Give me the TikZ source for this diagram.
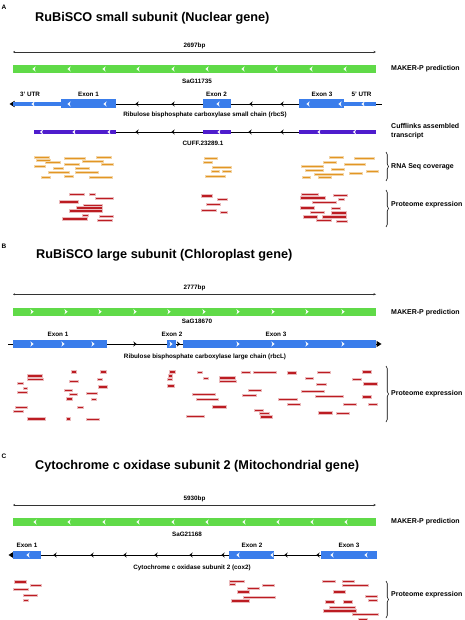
\documentclass[tikz,border=0pt]{standalone}
\usepackage{fontspec}
\setmainfont{Liberation Sans}
\usetikzlibrary{arrows.meta,decorations.pathreplacing}
\definecolor{gbar}{RGB}{96,218,72}
\definecolor{bl}{RGB}{58,125,235}
\definecolor{purp}{RGB}{78,28,205}
\definecolor{orng}{RGB}{226,150,36}
\definecolor{dred}{RGB}{188,28,34}
\tikzset{
 title/.style={font=\bfseries\fontsize{12.7}{14}\selectfont, anchor=west, inner sep=0},
 plabel/.style={font=\bfseries\fontsize{6.5}{7}\selectfont, inner sep=0},
 small/.style={font=\bfseries\fontsize{6.3}{7}\selectfont, inner sep=0},
 rlabel/.style={font=\bfseries\fontsize{7}{9}\selectfont, inner sep=0, anchor=west, align=left},
 scaleline/.style={draw=black!80, line width=0.6pt, {Stealth[length=2pt,width=2pt]}-{Stealth[length=2.5pt,width=2.2pt]}},
 geneline/.style={draw=black, line width=0.7pt},
 obar/.style={fill=orng, draw=orng!40, line width=0.5pt},
 rbar/.style={fill=dred, draw=dred!30, line width=0.5pt},
 brc/.style={decorate, decoration={brace, amplitude=2.5pt}, line width=0.6pt},
}
\newcommand\chL[3]{\fill[#3] (#1+1.6,#2-2.6) -- (#1-1.6,#2) -- (#1+1.6,#2+2.6) -- (#1+0.6,#2) -- cycle;}
\newcommand\chR[3]{\fill[#3] (#1-1.6,#2-2.6) -- (#1+1.6,#2) -- (#1-1.6,#2+2.6) -- (#1-0.6,#2) -- cycle;}
\newcommand\ob[3]{\draw[obar] (#1,#3-1) rectangle (#2,#3+1);}
\newcommand\rb[3]{\draw[rbar] (#1,#3-1.1) rectangle (#2,#3+1.1);}
\begin{document}
\begin{tikzpicture}[x=1pt,y=-1pt]
\useasboundingbox (0,0) rectangle (464,620);
\fill[white] (0,0) rectangle (464,620);

% ================= Panel A =================
\node[plabel] (lA) at (4,7) {A};
\node[title] (tA) at (35,18) {RuBiSCO small subunit (Nuclear gene)};
\draw[scaleline] (13,52) -- (376,52);
\node[small] (bpA) at (194.5,46) {2697bp};
\fill[gbar] (13,65) rectangle (376,73);
\foreach \x in {34,69,104,138,173,207,243,276,311,345} {\chL{\x}{69}{white}}
\node[rlabel] (mkA) at (391,69) {MAKER-P prediction};
\node[small] (sgA) at (197,81) {SaG11735};
% gene model
\draw[geneline] (12,104) -- (382,104);
\fill (9.5,104) -- (14.5,100.8) -- (14.5,107.2) -- cycle;
\fill[bl] (13,101.8) rectangle (61,106.2);
\chL{33}{104}{white}
\fill[bl] (60.7,99) rectangle (115.7,108.5);
\chL{69}{104}{white}\chL{105}{104}{white}
\chL{137}{104}{black}\chL{173}{104}{black}
\fill[bl] (202.7,99) rectangle (231,108.5);
\chL{218}{104}{white}
\chL{251}{104}{black}\chL{282}{104}{black}
\fill[bl] (299,99) rectangle (344,108.5);
\chL{308}{104}{white}\chL{340}{104}{white}
\fill[bl] (344,101.8) rectangle (376,106.2);
\chL{363}{104}{white}
\node[small] (utr3) at (30,94) {3' UTR};
\node[small] (eA1) at (88.5,94) {Exon 1};
\node[small] (eA2) at (216.5,94) {Exon 2};
\node[small] (eA3) at (322,94) {Exon 3};
\node[small] (utr5) at (361.5,94) {5' UTR};
\node[small] (gnA) at (205,115) {Ribulose bisphosphate carboxylase small chain (rbcS)};
% cufflinks
\draw[geneline] (34,132) -- (376,132);
\fill[purp] (34,130.2) rectangle (116,133.8);
\fill[purp] (203,130.2) rectangle (231,133.8);
\fill[purp] (299,130.2) rectangle (376,133.8);
\foreach \x in {41.5,74,109,219,319,354.5} {\chL{\x}{132}{white}}
\foreach \x in {137,173,250,282} {\chL{\x}{132}{black}}
\node[small] (cuff) at (203,143) {CUFF.23289.1};
\node[rlabel] (cfl) at (391,131.5) {Cufflinks assembled\\transcript};
% RNA seq
\foreach \a/\b/\c in {34/49/157, 36/50/160, 45/60/162.7, 34/45/166.7, 53/63/168.7, 48/69/172, 41/50/177, 64/85/158, 82/103/161, 64/79/164, 96/111/157.7, 101/113/164, 75/89/168.7, 75/98/172, 64/73/176.3, 89/112/177.7, 204/217/158.7, 203/212/162, 212/231/167, 211/219/171, 222/231/171.7, 205/225/176.7, 329/343/157, 354/374/158.3, 323/336/162.3, 344/365/164, 301/323/166.7, 331/344/169, 305/323/170.7, 314/343/174.3, 349/362/173.3, 366/378/171, 302/310/177.7, 318/331/177.7} {\ob{\a}{\b}{\c}}
\coordinate (rsT) at (386,152); \coordinate (rsB) at (386,181);
\draw[brc] (rsT) -- (rsB);
\node[rlabel] (rsl) at (391,166.7) {RNA Seq coverage};
% proteome A
\foreach \a/\b/\c in {69/84/194.3, 89/95/194.3, 95/113/198.3, 59/78/201.7, 83/102/205, 76/102/207.7, 69/102/210.7, 82/88/215.3, 99/113/216, 62/87/218.7, 97/112/220, 201/212/195.7, 217/227/199.3, 206/220/204, 201/216/210, 220/227/212, 301/318/194.3, 333/347/195, 300/325/197.7, 338/344/199, 312/336/202, 300/314/207.7, 331/340/208.3, 310/324/212, 331/346/212.7, 303/317/216.7, 322/346/216.7, 316/331/220.3, 336/347/221} {\rb{\a}{\b}{\c}}
\coordinate (paT) at (386,190); \coordinate (paB) at (386,227);
\draw[brc] (paT) -- (paB);
\node[rlabel] (pal) at (391,205) {Proteome expression};

% ================= Panel B =================
\node[plabel] (lB) at (4,246.5) {B};
\node[title] (tB) at (36,255) {RuBiSCO large subunit (Chloroplast gene)};
\draw[scaleline] (13,294.3) -- (376,294.3);
\node[small] (bpB) at (194.5,288.3) {2777bp};
\fill[gbar] (13,307.7) rectangle (376,315.7);
\foreach \x in {32,66,100,135,169,204,238,273,307,343} {\chR{\x}{311.7}{white}}
\node[rlabel] (mkB) at (391,312.3) {MAKER-P prediction};
\node[small] (sgB) at (197,321) {SaG18670};
\draw[geneline] (8,344) -- (378,344);
\fill (381.5,344) -- (376.5,340.8) -- (376.5,347.2) -- cycle;
\fill[bl] (13,340) rectangle (107,348.3);
\foreach \x in {32,63,93} {\chR{\x}{344}{white}}
\chR{135}{344}{black}
\fill[bl] (167,340) rectangle (175.5,348.3);
\chR{171}{344}{white}
\chR{178.5}{344}{black}
\fill[bl] (183,340) rectangle (376,348.3);
\foreach \x in {238,273,307,343} {\chR{\x}{344}{white}}
\node[small] (eB1) at (58,334) {Exon 1};
\node[small] (eB2) at (172,334) {Exon 2};
\node[small] (eB3) at (276,334.5) {Exon 3};
\node[small] (gnB) at (205,357.3) {Ribulose bisphosphate carboxylase large chain (rbcL)};
\foreach \a/\b/\c in {27/42/375.7, 27/43/379, 17/23/383, 23/27/388, 17/27/392.3, 15/27/407, 13/23/411, 27/45/418.7, 71/76/371.7, 100/106/371.7, 69/78/381.3, 97/102/379, 98/107/386.7, 64/72/390.3, 69/77/394, 86/97/393, 66/72/398.7, 91/96/399.3, 77/83/407, 66/70/418.7, 86/99/419.3, 169/175/371.7, 168/172/375.7, 167/172/379.3, 167/174/385.7, 197/202/372.3, 203/208/378, 219/235/377.7, 219/236/381, 192/215/394.3, 196/218/399, 212/226/406.7, 186/204/416, 241/250/372.3, 253/276/372.3, 287/296/372.7, 317/330/372.3, 362/371/371.7, 305/313/378, 352/361/379, 316/326/384.3, 363/377/383.7, 248/261/390.3, 301/324/391.3, 242/256/395, 315/343/396, 362/371/396.7, 278/297/399.3, 287/300/404, 343/356/404, 368/377/404.3, 254/263/410.3, 259/269/413.3, 260/272/416.7, 318/332/412.7, 336/349/413} {\rb{\a}{\b}{\c}}
\coordinate (pbT) at (386,366); \coordinate (pbB) at (386,422);
\draw[brc] (pbT) -- (pbB);
\node[rlabel] (pbl) at (391,394) {Proteome expression};

% ================= Panel C =================
\node[plabel] (lC) at (4,456.5) {C};
\node[title] (tC) at (35,466) {Cytochrome c oxidase subunit 2 (Mitochondrial gene)};
\draw[scaleline] (13,505) -- (376,505);
\node[small] (bpC) at (194.5,499.3) {5930bp};
\fill[gbar] (13,518) rectangle (376,526);
\foreach \x in {35,69,104,138,173,207,244,278,312,346} {\chL{\x}{522}{white}}
\node[rlabel] (mkC) at (391,522) {MAKER-P prediction};
\node[small] (sgC) at (187,534) {SaG21168};
\draw[geneline] (11,555) -- (377,555);
\fill (8.5,555) -- (13.5,551.8) -- (13.5,558.2) -- cycle;
\fill[bl] (13,551) rectangle (41,559.3);
\chL{28}{555}{white}
\foreach \x in {55,92,125,156,191,223,286,318} {\chL{\x}{555}{black}}
\fill[bl] (229,551) rectangle (274,559.3);
\chL{238}{555}{white}\chL{272}{555}{white}
\fill[bl] (321,551) rectangle (377,559.3);
\chL{332}{555}{white}\chL{366}{555}{white}
\node[small] (eC1) at (27,545.7) {Exon 1};
\node[small] (eC2) at (252,545.7) {Exon 2};
\node[small] (eC3) at (349,545.7) {Exon 3};
\node[small] (gnC) at (192,568.3) {Cytochrome c oxidase subunit 2 (cox2)};
\foreach \a/\b/\c in {14/26/581.7, 30/41/585, 13/28/589.3, 23/37/595, 23/28/600, 229/244/581, 229/235/584.3, 262/274/585, 247/259/588.3, 237/249/591.7, 243/275/597.3, 231/249/600.7, 322/335/581, 342/354/581, 342/368/585, 333/345/591.7, 365/377/596, 368/377/600, 325/334/601.7, 343/352/601.7, 329/355/607, 323/356/610.7, 352/378/614.3, 358/367/619} {\rb{\a}{\b}{\c}}
\coordinate (pcT) at (386,581); \coordinate (pcB) at (386,618);
\draw[brc] (pcT) -- (pcB);
\node[rlabel] (pcl) at (391,595) {Proteome expression};
\end{tikzpicture}
\end{document}
